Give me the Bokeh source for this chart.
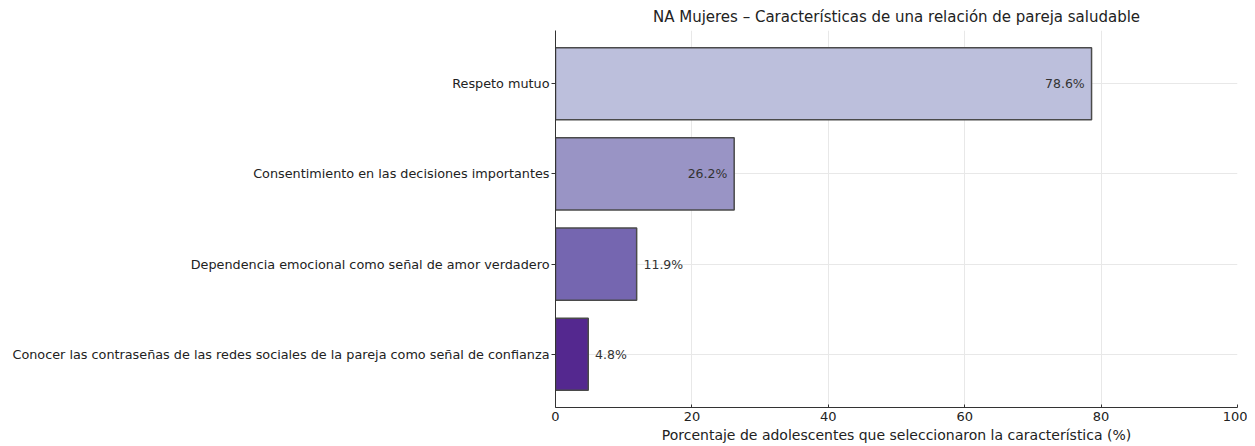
from bokeh.plotting import figure
from bokeh.models import ColumnDataSource, FactorRange, Range1d, FixedTicker
from bokeh.embed import file_html
from bokeh.resources import INLINE

categories = [
    "Respeto mutuo",
    "Consentimiento en las decisiones importantes",
    "Dependencia emocional como señal de amor verdadero",
    "Conocer las contraseñas de las redes sociales de la pareja como señal de confianza",
]
values = [78.6, 26.2, 11.9, 4.8]
colors = ["#bcbfdc", "#9994c5", "#7566b0", "#54288f"]
labels = [f"{v:.1f}%" for v in values]
x_ticks = [0, 20, 40, 60, 80, 100]

FONT = "DejaVu Sans"

label_x = [v - 1 if v > 20 else v + 1 for v in values]
label_align = ["right" if v > 20 else "left" for v in values]

src = ColumnDataSource(dict(cat=categories, val=values, color=colors,
                            lx=label_x, la=label_align, lab=labels))

p = figure(width=1247, height=446, output_backend="svg", toolbar_location=None,
           y_range=FactorRange(*list(reversed(categories)), range_padding=0.045,
                               range_padding_units="percent"),
           x_range=Range1d(0, 100),
           title="NA Mujeres – Características de una relación de pareja saludable",
           min_border_left=555, min_border_right=10, min_border_top=30, min_border_bottom=39)

p.hbar(y="cat", right="val", left=0, height=0.8, source=src,
       fill_color="color", line_color="#4a4a4a", line_width=1.5)

p.text(x="lx", y="cat", text="lab", text_align="la", text_baseline="middle",
       source=src, text_font_size="12.5px", text_color="#333333",
       text_font={"value": FONT})

p.title.align = "center"
p.title.text_font = FONT
p.title.text_font_size = "15px"
p.title.text_font_style = "normal"
p.title.text_color = "#222222"

p.outline_line_color = None
p.background_fill_color = "white"

p.xgrid.grid_line_color = "#e8e8e8"
p.ygrid.grid_line_color = "#e8e8e8"
p.xgrid.ticker = FixedTicker(ticks=x_ticks)

p.xaxis.ticker = FixedTicker(ticks=x_ticks)
p.xaxis.axis_label = "Porcentaje de adolescentes que seleccionaron la característica (%)"
p.xaxis.axis_label_text_font = FONT
p.xaxis.axis_label_text_font_size = "14px"
p.xaxis.axis_label_text_font_style = "normal"
p.xaxis.axis_label_text_color = "#222222"
p.xaxis.axis_label_standoff = 3
p.xaxis.major_label_text_font = FONT
p.xaxis.major_label_text_font_size = "13px"
p.xaxis.major_label_text_color = "#222222"
p.xaxis.major_label_standoff = 4
p.xaxis.major_tick_in = 3
p.xaxis.major_tick_out = 0
p.xaxis.minor_tick_line_color = None
p.xaxis.axis_line_color = "#333333"
p.xaxis.major_tick_line_color = "#333333"

p.yaxis.major_label_text_font = FONT
p.yaxis.major_label_text_font_size = "12.8px"
p.yaxis.major_label_text_color = "#222222"
p.yaxis.major_tick_in = 0
p.yaxis.major_tick_out = 4
p.yaxis.major_label_standoff = 2
p.yaxis.axis_line_color = "#333333"
p.yaxis.major_tick_line_color = "#333333"

open("out.html", "w").write(file_html(p, INLINE))
